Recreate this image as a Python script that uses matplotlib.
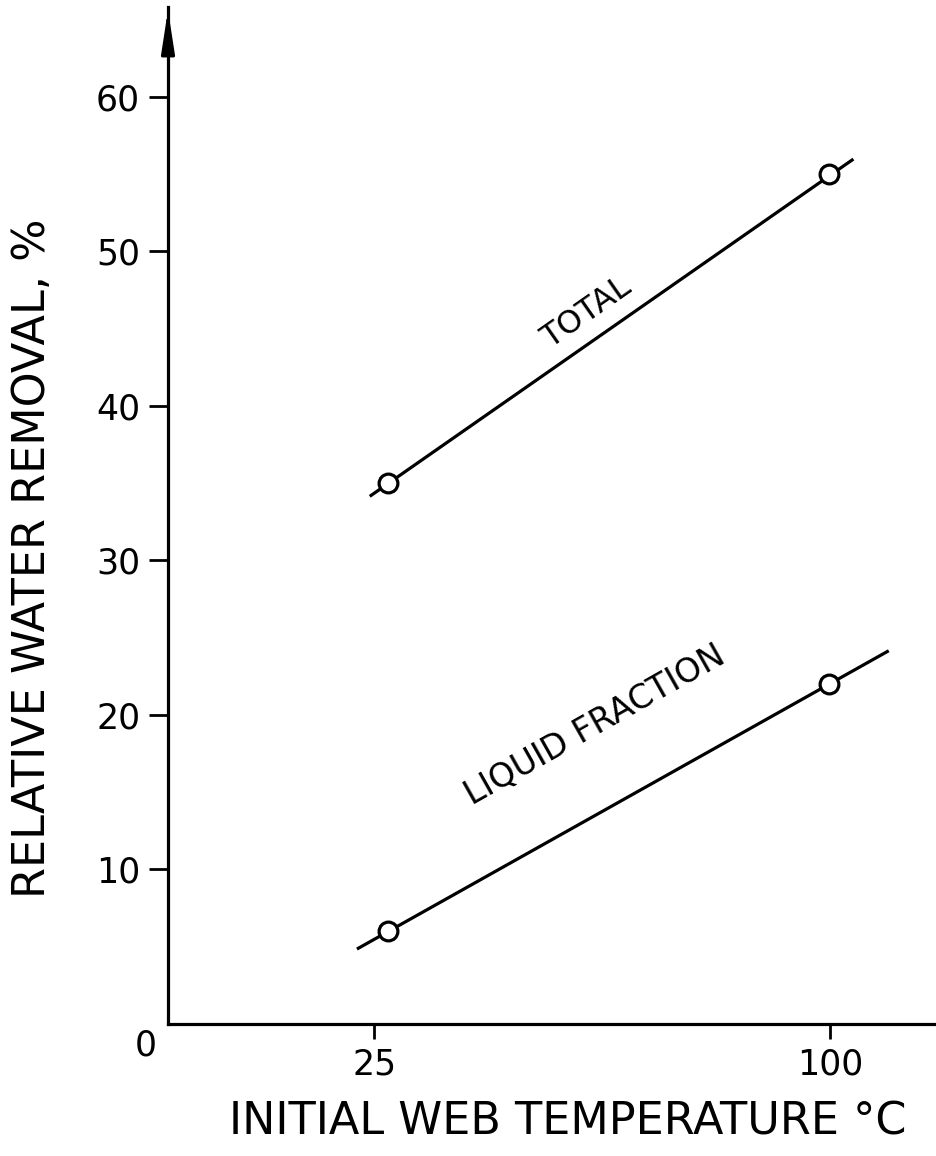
import matplotlib
matplotlib.use("Agg")
import matplotlib.pyplot as pyplot

# values
temps = [27.3, 99.8]
total_pct = [35, 55]
liquid_pct = [6, 22]

# drawn line extents (the lines run a little past the points)
total_line_x = [24.5, 103.6]
total_line_y = [34.2, 55.9]
liquid_line_x = [22.4, 109.4]
liquid_line_y = [4.9, 24.1]

x_ticks = [25, 100]
y_ticks = [10, 20, 30, 40, 50, 60]

pyplot.rcParams["font.family"] = ["DejaVu Sans"]

fig = pyplot.figure(figsize=(9.36, 11.56), dpi=100)
ax = fig.add_axes([168 / 936, 132 / 1156, 1 - 168 / 936, (1024 - 7) / 1156])

lw = 2.3
ax.plot(total_line_x, total_line_y, color="black", linewidth=lw)
ax.plot(liquid_line_x, liquid_line_y, color="black", linewidth=lw)
ax.plot(temps, total_pct, linestyle="none", marker="o", markersize=13.5,
        markerfacecolor="white", markeredgecolor="black", markeredgewidth=2.3)
ax.plot(temps, liquid_pct, linestyle="none", marker="o", markersize=13.5,
        markerfacecolor="white", markeredgecolor="black", markeredgewidth=2.3)

ax.text(60.0, 46.0, "TOTAL", rotation=35, ha="center", va="center",
        fontsize=23, rotation_mode="anchor")
ax.text(61.3, 19.3, "LIQUID FRACTION", rotation=29.4, ha="center", va="center",
        fontsize=24, rotation_mode="anchor")

ax.set_xlim(-8.9, 117.4)
ax.set_ylim(0, 65.8)
ax.set_xticks(x_ticks)
ax.set_yticks(y_ticks)
ax.set_xticklabels([str(t) for t in x_ticks], fontsize=25)
ax.set_yticklabels([str(t) for t in y_ticks], fontsize=25)
ax.tick_params(axis="y", direction="out", length=14, width=2, pad=6)
ax.tick_params(axis="x", direction="out", length=11, width=2, pad=6)

for side in ["top", "right"]:
    ax.spines[side].set_visible(False)
for side in ["left", "bottom"]:
    ax.spines[side].set_linewidth(2.3)

# arrow head on the y axis
ax.annotate("", xy=(0, 1.0), xytext=(0, 0.955), xycoords="axes fraction",
            arrowprops=dict(arrowstyle="-|>,head_length=1.3,head_width=0.2",
                            mutation_scale=20, color="black", linewidth=2.2),
            annotation_clip=False)

fig.text(146 / 936, 1 - 1046 / 1156, "0", fontsize=25, ha="center", va="center")
fig.text(33 / 936, 1 - 558 / 1156, "RELATIVE WATER REMOVAL, %", rotation=90,
         fontsize=32, ha="center", va="center")
fig.text(568 / 936, 1 - 1122 / 1156, "INITIAL WEB TEMPERATURE °C",
         fontsize=32, ha="center", va="center")

fig.savefig("out.png", dpi=100)
